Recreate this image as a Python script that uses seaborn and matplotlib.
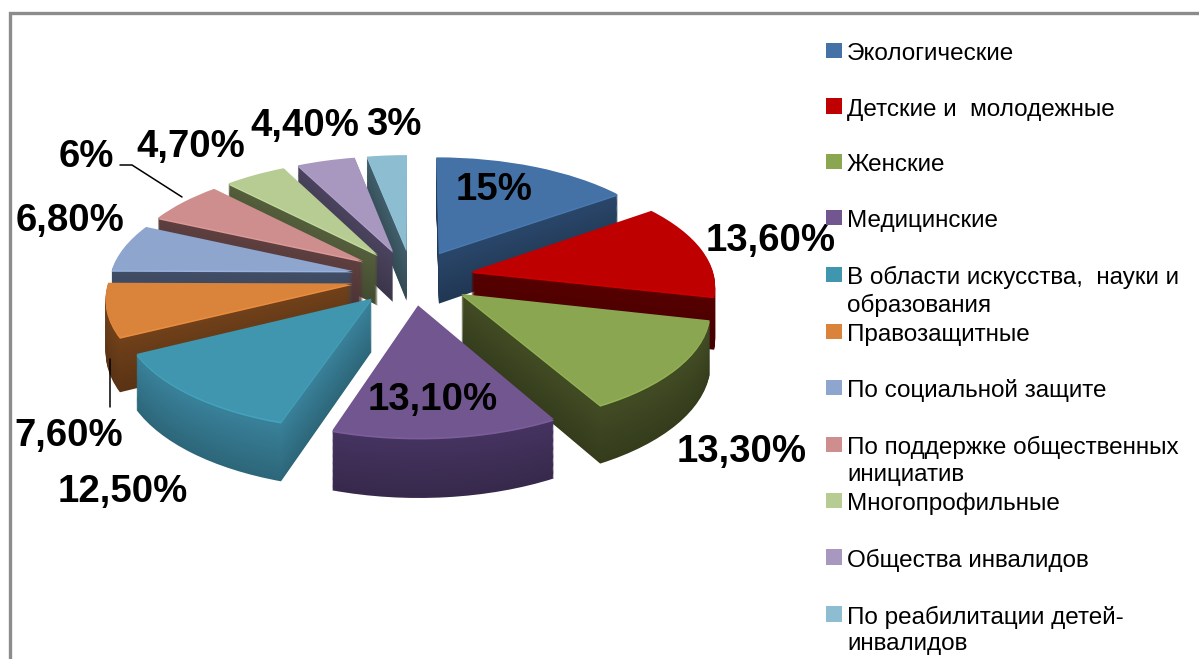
import matplotlib
matplotlib.use("Agg")
import numpy as np
import matplotlib.pyplot as plt
import seaborn as sns
from matplotlib.patches import Rectangle
from matplotlib.legend_handler import HandlerPatch
from matplotlib.transforms import Transform

categories = ["Экологические", "Детские и  молодежные", "Женские", "Медицинские",
              "В области искусства,  науки и\nобразования", "Правозащитные",
              "По социальной защите", "По поддержке общественных\nинициатив",
              "Многопрофильные", "Общества инвалидов",
              "По реабилитации детей-\nинвалидов"]
values = [15, 13.6, 13.3, 13.1, 12.5, 7.6, 6.8, 6, 4.7, 4.4, 3]
value_labels = ["15%", "13,60%", "13,30%", "13,10%", "12,50%", "7,60%", "6,80%", "6%", "4,70%", "4,40%", "3%"]
top_colors = ["#4472A6", "#BE0000", "#8AA650", "#72568F", "#3F96AE", "#DA833A",
              "#8EA5CE", "#CE8E8E", "#B7CC93", "#A897BF", "#8DBDD0"]
side_colors = ["#253F5F", "#4E0000", "#3B4420", "#3E2E56", "#33748A", "#653A17",
               "#3A465C", "#55393A", "#4C5536", "#443D55", "#3A5560"]

# layout (pixels)
label_xy = [(494, 190), (771, 241), (742, 452), (433, 400), (123, 492), (69, 436),
            (70, 221), (86, 157), (191, 147), (305, 126), (394, 125)]
CX, CY, A, B, K, EXPLODE, DEPTH = 412, 277, 243, 111, 0.11, 0.25, 52

sns.set_theme(style="white")
plt.rcParams["font.family"] = ["Liberation Sans", "DejaVu Sans"]

fig = plt.figure(figsize=(11.99, 6.59), dpi=100, facecolor="white")
ax = fig.add_axes([0, 0, 1, 1])


class Perspective(Transform):
    input_dims = output_dims = 2
    is_separable = False
    has_inverse = False

    def __init__(self, z):
        super().__init__()
        self.z = z

    def transform_non_affine(self, xy):
        xy = np.asarray(xy, float)
        s = 1 / (1 + K * xy[:, 1])
        return np.column_stack((CX + A * xy[:, 0] * s,
                                CY - B * xy[:, 1] * s + self.z * s))


def shade(color, f):
    r = np.array(matplotlib.colors.to_rgb(color)) * f
    return tuple(np.clip(r, 0, 1))


fr = np.array(values) / sum(values)
ends = np.cumsum(fr) * 360
mids = ends - fr * 180
order_rank = np.argsort(np.argsort(-np.cos(np.radians(mids))))

layers = list(np.arange(DEPTH, 0, -1.0))
for li, z in enumerate(layers):
    f = 0.88 + 0.24 * li / len(layers)
    cols = [shade(c, f) for c in side_colors]
    wedges, _ = ax.pie(values, explode=[EXPLODE] * len(values), startangle=90, counterclock=False,
                       radius=1, colors=cols, wedgeprops=dict(lw=0))
    for w, r in zip(wedges, order_rank):
        w.set_transform(Perspective(z) + ax.transData)
        w.set_zorder(2 + r * 100 + li * 0.1)

rim = [shade(c, 1.08) for c in top_colors]
wedges, _ = ax.pie(values, explode=[EXPLODE] * len(values), startangle=90, counterclock=False,
                   radius=1, colors=rim, wedgeprops=dict(lw=0))
for w, r in zip(wedges, order_rank):
    w.set_transform(Perspective(1.5) + ax.transData)
    w.set_zorder(2 + r * 100 + 50)
wedges, _ = ax.pie(values, explode=[EXPLODE] * len(values), startangle=90, counterclock=False,
                   radius=1, colors=top_colors, wedgeprops=dict(lw=0))
for w, r in zip(wedges, order_rank):
    w.set_transform(Perspective(0) + ax.transData)
    w.set_zorder(2 + r * 100 + 60)

ax.set_aspect("auto")
ax.set_xlim(0, 1199)
ax.set_ylim(659, 0)
ax.set_axis_off()

# frame
ax.plot([9.5, 9.5, 1199], [659, 12.5, 12.5], color="#8C8C8C", lw=2.4, zorder=1, solid_joinstyle="miter")

# leader lines
ax.plot([120, 132, 182], [165, 165, 197], color="black", lw=1.1, zorder=3000)
ax.plot([110, 110], [359, 407], color="black", lw=1.1, zorder=3000)

for txt, (x, y) in zip(value_labels, label_xy):
    ax.text(x, y, txt, ha="center", va="center", fontsize=27.6, fontweight="bold",
            color="black", zorder=3001)


def make_square(legend, orig_handle, xdescent, ydescent, width, height, fontsize):
    # square sits on the first text line; multi-line baselines use the last line
    return Rectangle((width - 11.5, 12.7), 11, 11)


labels = [c if "\n" in c else c + "\n " for c in categories]
handles = [Rectangle((0, 0), 1, 1, facecolor=c, edgecolor="none") for c in top_colors]
leg = ax.legend(handles, labels, loc="upper left", bbox_to_anchor=(818 / 1199, 1 - 43 / 659),
                frameon=False, fontsize=17.5, labelspacing=0.292, borderpad=0, borderaxespad=0,
                handlelength=1.0, handleheight=1.0, handletextpad=0.19, labelcolor="black",
                handler_map={Rectangle: HandlerPatch(patch_func=make_square)})
for t in leg.get_texts():
    t.set_linespacing(1.267)
leg.set_zorder(3002)

fig.savefig("out.png", dpi=100)
